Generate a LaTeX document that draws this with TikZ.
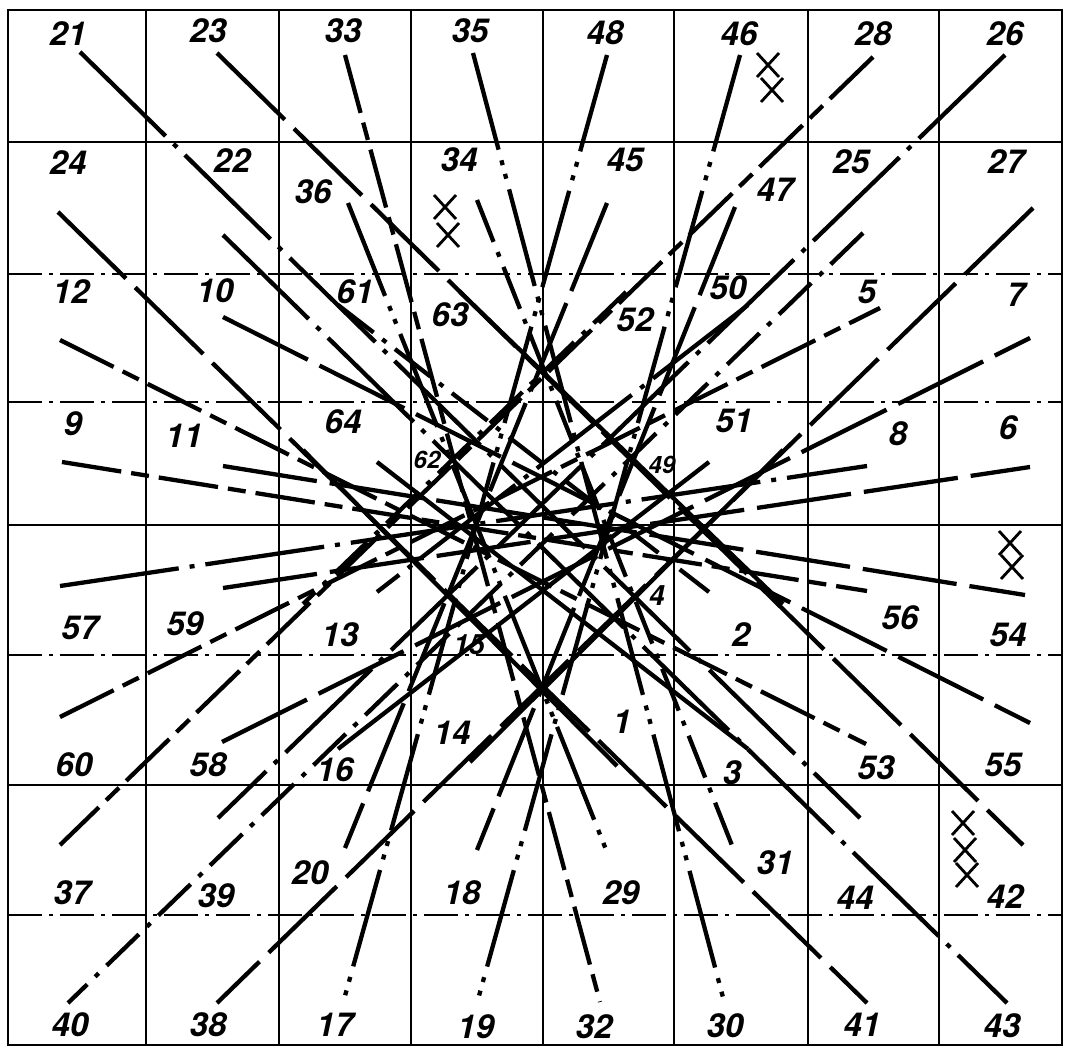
\documentclass[tikz,border=0pt]{standalone}
\usepackage{fontspec}
\setsansfont{TeX Gyre Heros}
\tikzset{
  lbl/.style={font=\sffamily\bfseries\itshape\fontsize{33}{33}\selectfont, inner sep=0pt},
  grid/.style={line width=2.4pt},
  gridd/.style={line width=1.5pt, dash pattern=on 34pt off 7pt on 4pt off 7pt},
  thr/.style={line width=4.3pt},
  tA/.style={thr, dash pattern=on 120pt off 11pt on 5pt off 11pt},
  tB/.style={thr, dash pattern=on 95pt off 13pt},
  tC/.style={thr, dash pattern=on 100pt off 11pt on 5pt off 9pt on 5pt off 11pt},
  tD/.style={thr, dash pattern=on 45pt off 11pt on 5pt off 11pt},
  tF/.style={thr, dash pattern=on 60pt off 10pt on 18pt off 10pt},
  xm/.style={line width=2.8pt}
}
\begin{document}
\begin{tikzpicture}[x=1pt,y=-1pt]
\useasboundingbox (0,0) rectangle (1065,1048);
% grid
\draw[grid] (8,10) rectangle (1062,1045);
\foreach \gx in {146,279,411,674,808,939} \draw[grid] (\gx,10) -- (\gx,1045);
\draw[line width=1.8pt] (543,10) -- (543,1045);
\foreach \gy in {142,525,785} \draw[grid] (8,\gy) -- (1062,\gy);
\foreach \gy in {274,402,655,915} \draw[gridd] (8,\gy) -- (1062,\gy);

% line ends
\coordinate (e21) at (80,52);   \coordinate (e23) at (217,53);  \coordinate (e33) at (345,55);  \coordinate (e35) at (473,53);
\coordinate (e48) at (607,55);  \coordinate (e46) at (740,55);  \coordinate (e28) at (873,57);  \coordinate (e26) at (1005,55);
\coordinate (e24) at (58,212);  \coordinate (e22) at (223,235); \coordinate (e36) at (348,203); \coordinate (e34) at (477,200);
\coordinate (e45) at (607,203); \coordinate (e47) at (735,207); \coordinate (e25) at (863,233); \coordinate (e27) at (1033,208);
\coordinate (e12) at (60,340);  \coordinate (e10) at (223,317); \coordinate (e61) at (338,305); \coordinate (e63) at (460,292);
\coordinate (e52) at (626,292); \coordinate (e50) at (748,305); \coordinate (e5) at (880,308);  \coordinate (e7) at (1030,338);
\coordinate (e9) at (62,462);   \coordinate (e11) at (223,466); \coordinate (e64) at (303,450); \coordinate (e62) at (377,462);
\coordinate (e49) at (709,462); \coordinate (e51) at (783,450); \coordinate (e8) at (867,466);  \coordinate (e6) at (1030,467);
\coordinate (e57) at (60,586);  \coordinate (e59) at (223,588); \coordinate (e13) at (303,604); \coordinate (e15) at (377,592);
\coordinate (e4) at (709,592);  \coordinate (e2) at (783,604);  \coordinate (e56) at (867,591); \coordinate (e54) at (1025,595);
\coordinate (e60) at (60,717);  \coordinate (e58) at (222,742); \coordinate (e16) at (338,749); \coordinate (e14) at (470,762);
\coordinate (e1) at (617,766);  \coordinate (e3) at (748,749);  \coordinate (e53) at (866,744); \coordinate (e55) at (1030,723);
\coordinate (e37) at (60,845);  \coordinate (e39) at (218,818); \coordinate (e20) at (345,848); \coordinate (e18) at (477,850);
\coordinate (e29) at (607,852); \coordinate (e31) at (735,853); \coordinate (e44) at (860,818); \coordinate (e42) at (1023,845);
\coordinate (e40) at (68,1003); \coordinate (e38) at (217,1003); \coordinate (e17) at (343,1003); \coordinate (e19) at (477,1003);
\coordinate (e32) at (600,1002); \coordinate (e30) at (725,1005); \coordinate (e41) at (867,1003); \coordinate (e43) at (1007,1003);

% labels
\node[lbl] (n21) at (68,34) {21};   \node[lbl] (n23) at (208,31) {23};  \node[lbl] (n33) at (343,31) {33};  \node[lbl] (n35) at (470,31) {35};
\node[lbl] (n48) at (605,33) {48};  \node[lbl] (n46) at (739,34) {46};  \node[lbl] (n28) at (873,34) {28};  \node[lbl] (n26) at (1005,34) {26};
\node[lbl] (n24) at (68,163) {24};  \node[lbl] (n22) at (232,161) {22}; \node[lbl] (n36) at (313,192) {36}; \node[lbl] (n34) at (459,160) {34};
\node[lbl] (n45) at (625,160) {45}; \node[lbl] (n47) at (775,190) {47}; \node[lbl] (n25) at (851,162) {25}; \node[lbl] (n27) at (1006,162) {27};
\node[lbl] (n12) at (71,292) {12};  \node[lbl] (n10) at (215,291) {10}; \node[lbl] (n61) at (355,292) {61}; \node[lbl] (n63) at (450,315) {63};
\node[lbl] (n52) at (635,320) {52}; \node[lbl] (n50) at (728,288) {50}; \node[lbl] (n5) at (867,292) {5};   \node[lbl] (n7) at (1016,295) {7};
\node[lbl] (n9) at (73,424) {9};    \node[lbl] (n11) at (184,436) {11}; \node[lbl] (n64) at (343,422) {64};
\node[lbl, font=\sffamily\bfseries\itshape\fontsize{24}{24}\selectfont] (n62) at (427,460) {62};
\node[lbl, font=\sffamily\bfseries\itshape\fontsize{24}{24}\selectfont] (n49) at (662,465) {49};
\node[lbl] (n51) at (734,421) {51};  \node[lbl] (n8) at (898,434) {8};   \node[lbl] (n6) at (1008,428) {6};
\node[lbl] (n57) at (80,628) {57};  \node[lbl] (n59) at (185,624) {59}; \node[lbl] (n13) at (340,635) {13};
\node[lbl, font=\sffamily\bfseries\itshape\fontsize{28}{28}\selectfont] (n15) at (469,645) {15};
\node[lbl, font=\sffamily\bfseries\itshape\fontsize{28}{28}\selectfont] (n4) at (657,596) {4};
\node[lbl] (n2) at (741,635) {2};   \node[lbl] (n56) at (900,618) {56}; \node[lbl] (n54) at (1008,635) {54};
\node[lbl] (n60) at (74,765) {60};  \node[lbl] (n58) at (208,765) {58}; \node[lbl] (n16) at (335,770) {16}; \node[lbl] (n14) at (452,733) {14};
\node[lbl] (n1) at (622,722) {1};   \node[lbl] (n3) at (732,773) {3};   \node[lbl] (n53) at (876,768) {53}; \node[lbl] (n55) at (1003,765) {55};
\node[lbl] (n37) at (72,893) {37};  \node[lbl] (n39) at (216,896) {39}; \node[lbl] (n20) at (310,873) {20}; \node[lbl] (n18) at (462,893) {18};
\node[lbl] (n29) at (621,893) {29}; \node[lbl] (n31) at (775,863) {31}; \node[lbl] (n44) at (855,898) {44}; \node[lbl] (n42) at (1005,897) {42};
\node[lbl] (n40) at (70,1025) {40}; \node[lbl] (n38) at (208,1025) {38}; \node[lbl] (n17) at (335,1025) {17}; \node[lbl] (n19) at (476,1027) {19};
\node[lbl] (n32) at (594,1027) {32}; \node[lbl] (n30) at (725,1026) {30}; \node[lbl] (n41) at (862,1025) {41}; \node[lbl] (n43) at (1002,1026) {43};

% stitches
\draw[tA] (e21) -- (e44);
\draw[tA] (e22) -- (e43);
\draw[tB] (e23) -- (e42);
\draw[tB] (e24) -- (e41);
\draw[tD] (e25) -- (e40);
\draw[tA] (e26) -- (e39);
\draw[tB] (e27) -- (e38);
\draw[tF] (e28) -- (e37);
\draw[tF] (e33) -- (e32);
\draw[tC] (e35) -- (e30);
\draw[tC] (e48) -- (e17);
\draw[tC] (e46) -- (e19);
\draw[tC] (e36) -- (e29);
\draw[tD] (e34) -- (e31);
\draw[tB] (e45) -- (e20);
\draw[tB] (e47) -- (e18);
\draw[tF] (e12) -- (e53);
\draw[tB] (e10) -- (e55);
\draw[tF] (e9) -- (e56);
\draw[tB] (e11) -- (e54);
\draw[tA] (e57) -- (e8);
\draw[tB] (e59) -- (e6);
\draw[tF] (e60) -- (e5);
\draw[tB] (e58) -- (e7);
\draw[tD] (e61) -- (e4);
\draw[thr] (e63) -- (e2);
\draw[thr] (e64) -- (e1);
\draw[thr] (e62) -- (e3);
\draw[tD] (e52) -- (e13);
\draw[tA] (e50) -- (e15);
\draw[thr] (e49) -- (e16);
\draw[thr] (e51) -- (e14);

% cross marks
\foreach \cx/\cy in {445/207, 448/235, 768/65, 772/90, 1010/543, 1012/567, 963/823, 965/850, 967/875}
  \draw[xm] (\cx-11,\cy-12) -- (\cx+11,\cy+12) (\cx+11,\cy-12) -- (\cx-11,\cy+12);
\end{tikzpicture}
\end{document}
